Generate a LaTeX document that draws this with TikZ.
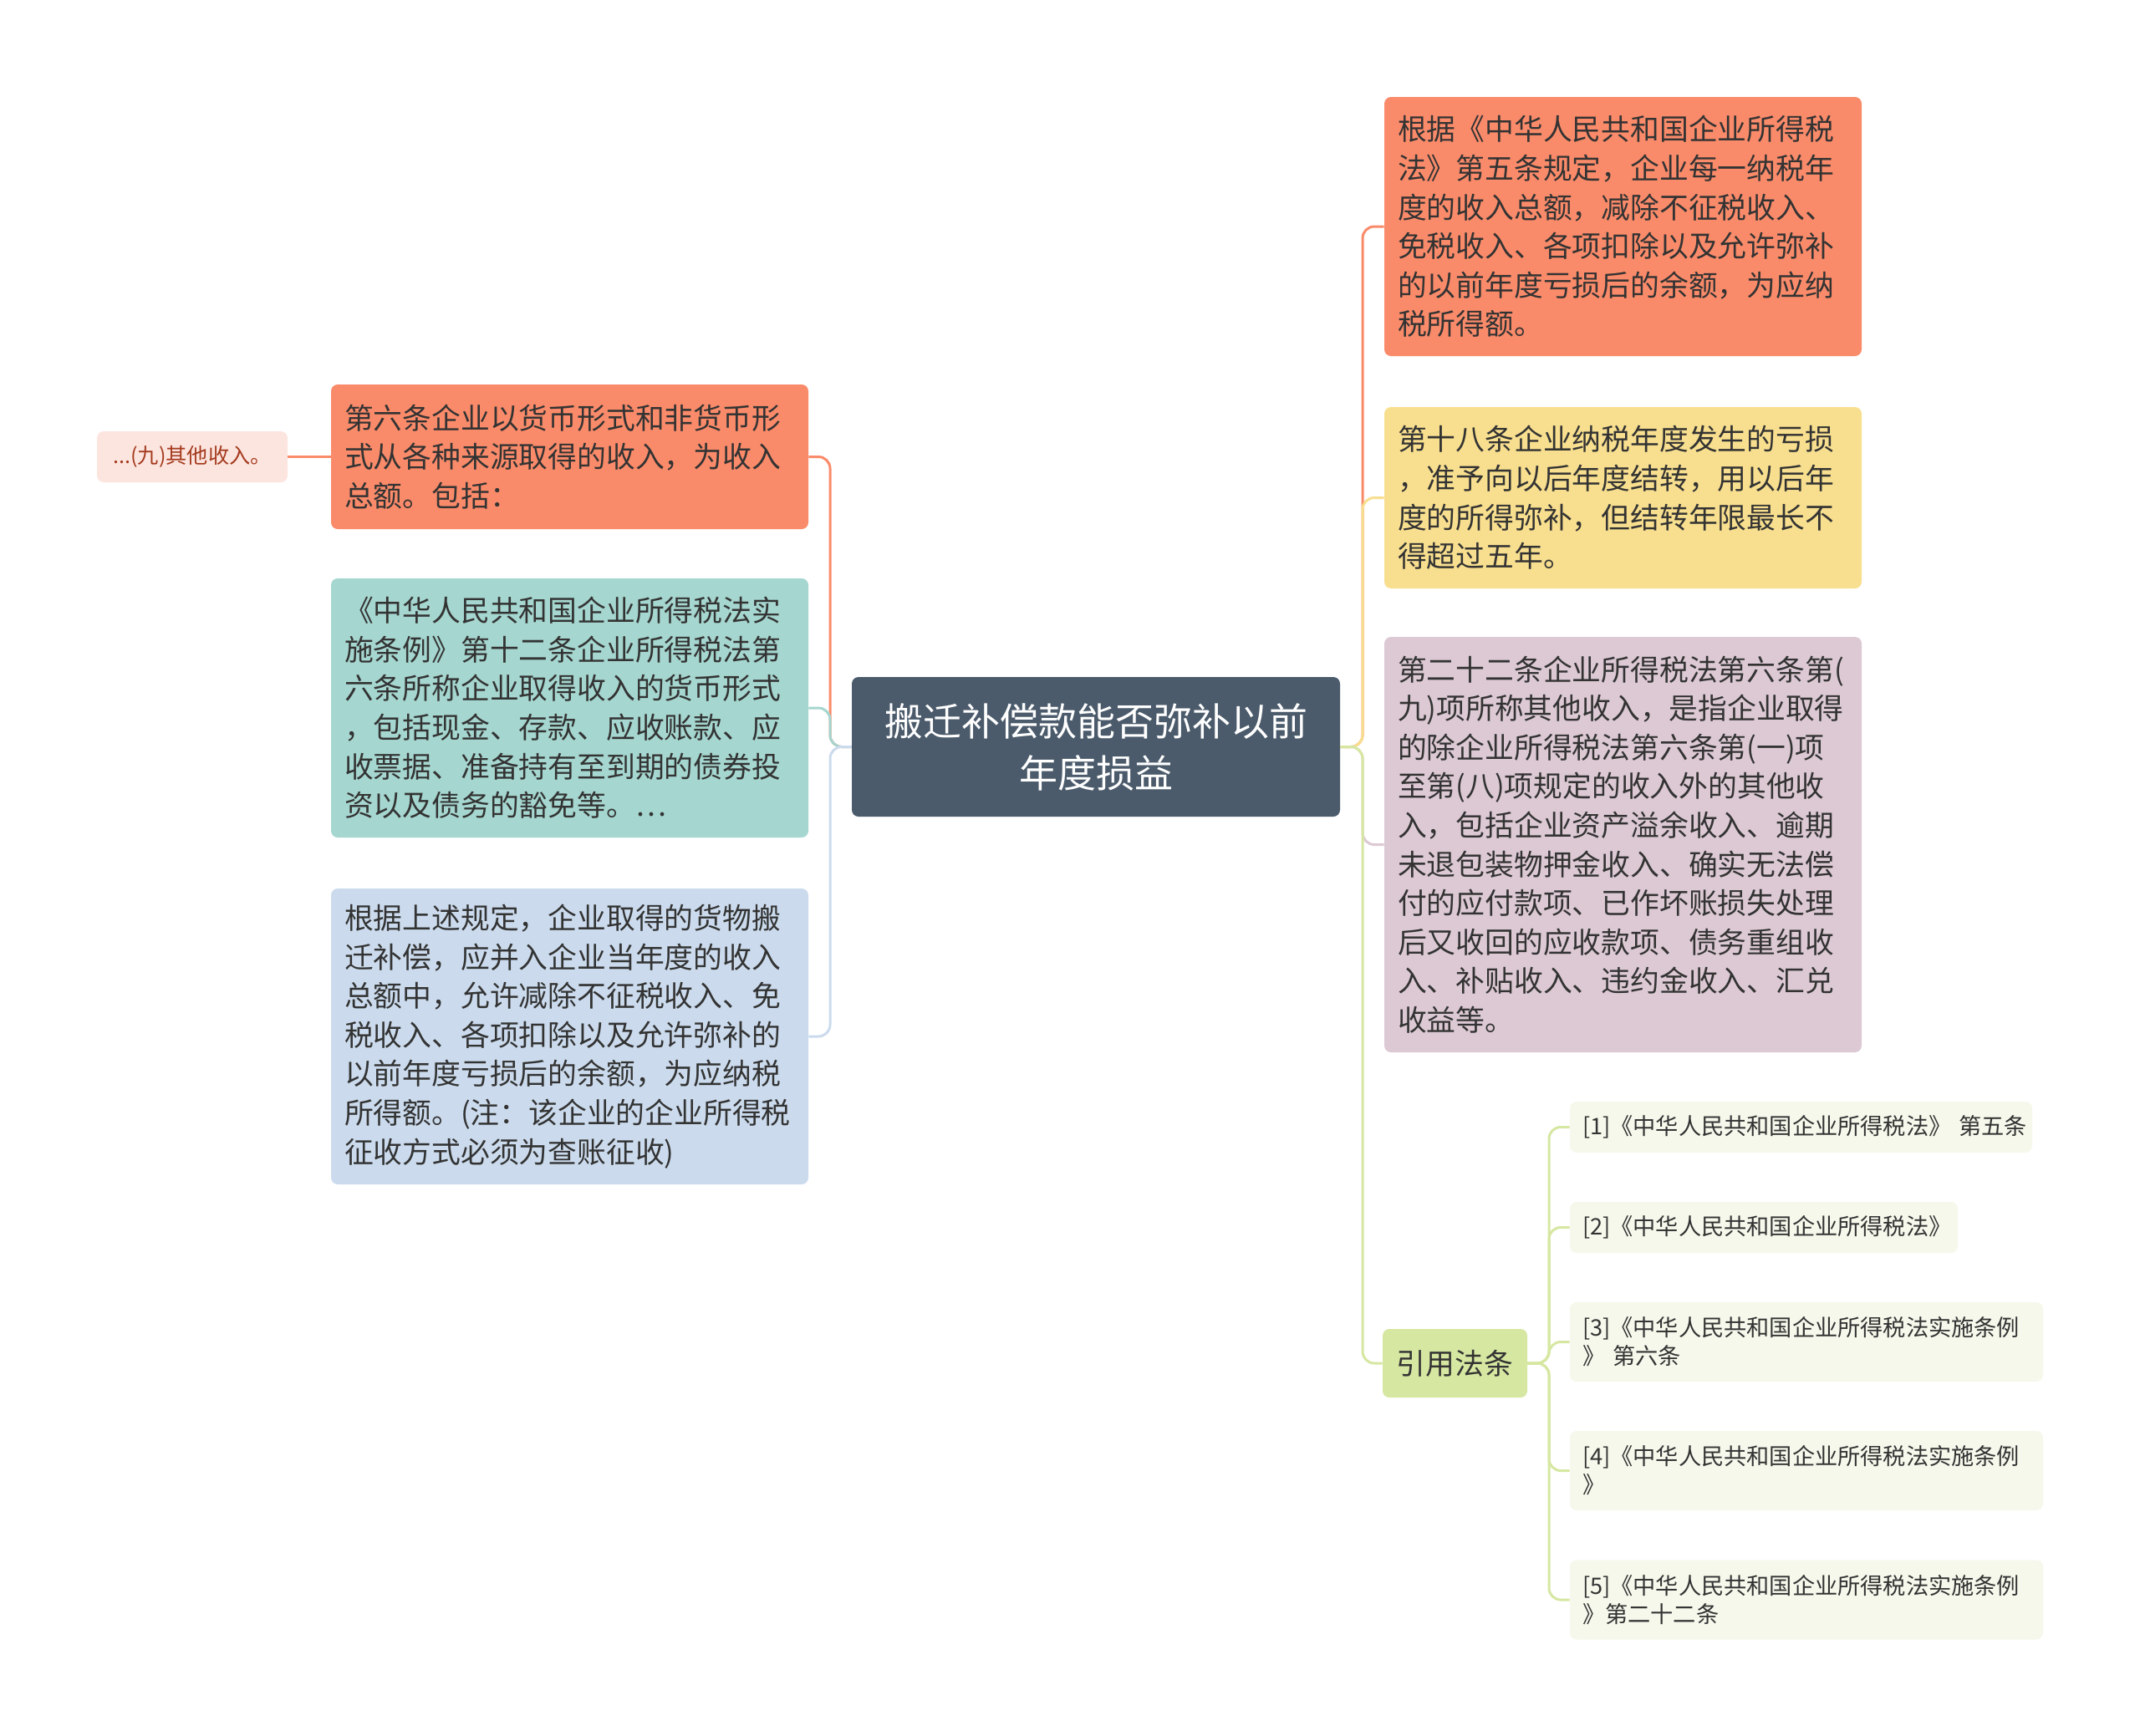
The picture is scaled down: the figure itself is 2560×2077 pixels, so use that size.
\documentclass[tikz,border=0pt]{standalone}
\usepackage{fontspec}
\setmainfont{Noto Sans CJK SC}
\usepackage{tikz}

\definecolor{slate}{HTML}{4B5B6B}
\definecolor{salmon}{HTML}{FA8B6A}
\definecolor{sand}{HTML}{F8DF8F}
\definecolor{mauve}{HTML}{DCC9D3}
\definecolor{mint}{HTML}{A5D6CF}
\definecolor{sky}{HTML}{CBDBED}
\definecolor{leaf}{HTML}{D6E7A1}
\definecolor{citebg}{HTML}{F5F8EB}
\definecolor{blush}{HTML}{FCE5DF}
\definecolor{rust}{HTML}{A53A1E}
\definecolor{ink}{HTML}{333333}

\begin{document}
\begin{tikzpicture}[x=0.5pt,y=-0.5pt,
    every node/.style={rounded corners=4pt,inner ysep=0pt},
    topic/.style={fill=slate,text=white,align=center,minimum width=292pt,minimum height=83.5pt,font=\fontsize{23pt}{31pt}\selectfont},
    para/.style={fill=#1,text=ink,align=left,inner xsep=8pt,text width=269.5pt,font=\fontsize{17.4pt}{23.3pt}\selectfont},
    cite/.style={fill=citebg,text=ink,align=left,inner xsep=7.5pt,font=\fontsize{13.6pt}{17pt}\selectfont},
    link/.style={draw=#1,line width=1.5pt,rounded corners=7pt}]
        \useasboundingbox (0,0) rectangle (2560,2077);
        \node[topic] (c) at (1311,893.5) {搬迁补偿款能否弥补以前\\年度损益};
        % right side
        \node[para=salmon,minimum height=155pt] (r1) at (1941.5,271) {根据《中华人民共和国企业所得税\\法》第五条规定，企业每一纳税年\\度的收入总额，减除不征税收入、\\免税收入、各项扣除以及允许弥补\\的以前年度亏损后的余额，为应纳\\税所得额。};
        \node[para=sand,minimum height=108.5pt] (r2) at (1941.5,595.5) {第十八条企业纳税年度发生的亏损\\，准予向以后年度结转，用以后年\\度的所得弥补，但结转年限最长不\\得超过五年。};
        \node[para=mauve,minimum height=248.5pt] (r3) at (1941.5,1010.5) {第二十二条企业所得税法第六条第(\\九)项所称其他收入，是指企业取得\\的除企业所得税法第六条第(一)项\\至第(八)项规定的收入外的其他收\\入，包括企业资产溢余收入、逾期\\未退包装物押金收入、确实无法偿\\付的应付款项、已作坏账损失处理\\后又收回的应收款项、债务重组收\\入、补贴收入、违约金收入、汇兑\\收益等。};
        \node[fill=leaf,text=ink,minimum width=86.5pt,minimum height=41pt,font=\fontsize{17.4pt}{23.3pt}\selectfont] (r4) at (1740.5,1631) {引用法条};
        \node[cite,text width=261.5pt,minimum height=30.5pt] (k1) at (2154.5,1348.5) {[1]《中华人民共和国企业所得税法》~第五条};
        \node[cite,text width=217pt,minimum height=30.5pt] (k2) at (2110,1468.5) {[2]《中华人民共和国企业所得税法》};
        \node[cite,text width=268pt,minimum height=47.5pt] (k3) at (2161,1605.5) {[3]《中华人民共和国企业所得税法实施条例\\》~第六条};
        \node[cite,text width=268pt,minimum height=47.5pt] (k4) at (2161,1759.5) {[4]《中华人民共和国企业所得税法实施条例\\》};
        \node[cite,text width=268pt,minimum height=47.5pt] (k5) at (2161,1914) {[5]《中华人民共和国企业所得税法实施条例\\》第二十二条};
        % left side
        \node[para=salmon,minimum height=86.5pt] (l1) at (681.5,546.5) {第六条企业以货币形式和非货币形\\式从各种来源取得的收入，为收入\\总额。包括：};
        \node[fill=blush,text=rust,minimum width=114pt,minimum height=30.5pt,font=\fontsize{12.6pt}{15pt}\selectfont] (k0) at (230,546.5) {...(九)其他收入。};
        \node[para=mint,minimum height=155pt] (l2) at (681.5,847) {《中华人民共和国企业所得税法实\\施条例》第十二条企业所得税法第\\六条所称企业取得收入的货币形式\\，包括现金、存款、应收账款、应\\收票据、准备持有至到期的债券投\\资以及债务的豁免等。…};
        \node[para=sky,minimum height=177pt] (l3) at (681.5,1240) {根据上述规定，企业取得的货物搬\\迁补偿，应并入企业当年度的收入\\总额中，允许减除不征税收入、免\\税收入、各项扣除以及允许弥补的\\以前年度亏损后的余额，为应纳税\\所得额。(注：该企业的企业所得税\\征收方式必须为查账征收)};
        % connectors
        \draw[link=salmon] (c.west) -- (993,893.5) |- (l1.east);
        \draw[link=mint] (c.west) -- (993,893.5) |- (l2.east);
        \draw[link=sky] (c.west) -- (993,893.5) |- (l3.east);
        \draw[link=salmon] (l1.west) -- (k0.east);
        \draw[link=salmon] (c.east) -- (1630,893.5) |- (r1.west);
        \draw[link=sand] (c.east) -- (1630,893.5) |- (r2.west);
        \draw[link=mauve] (c.east) -- (1630,893.5) |- (r3.west);
        \draw[link=leaf] (c.east) -- (1630,893.5) |- (r4.west);
        \foreach \k in {k1,k2,k3,k4,k5}
          \draw[link=leaf] (r4.east) -- (1853,1631) |- (\k.west);
      \end{tikzpicture}
\end{document}
